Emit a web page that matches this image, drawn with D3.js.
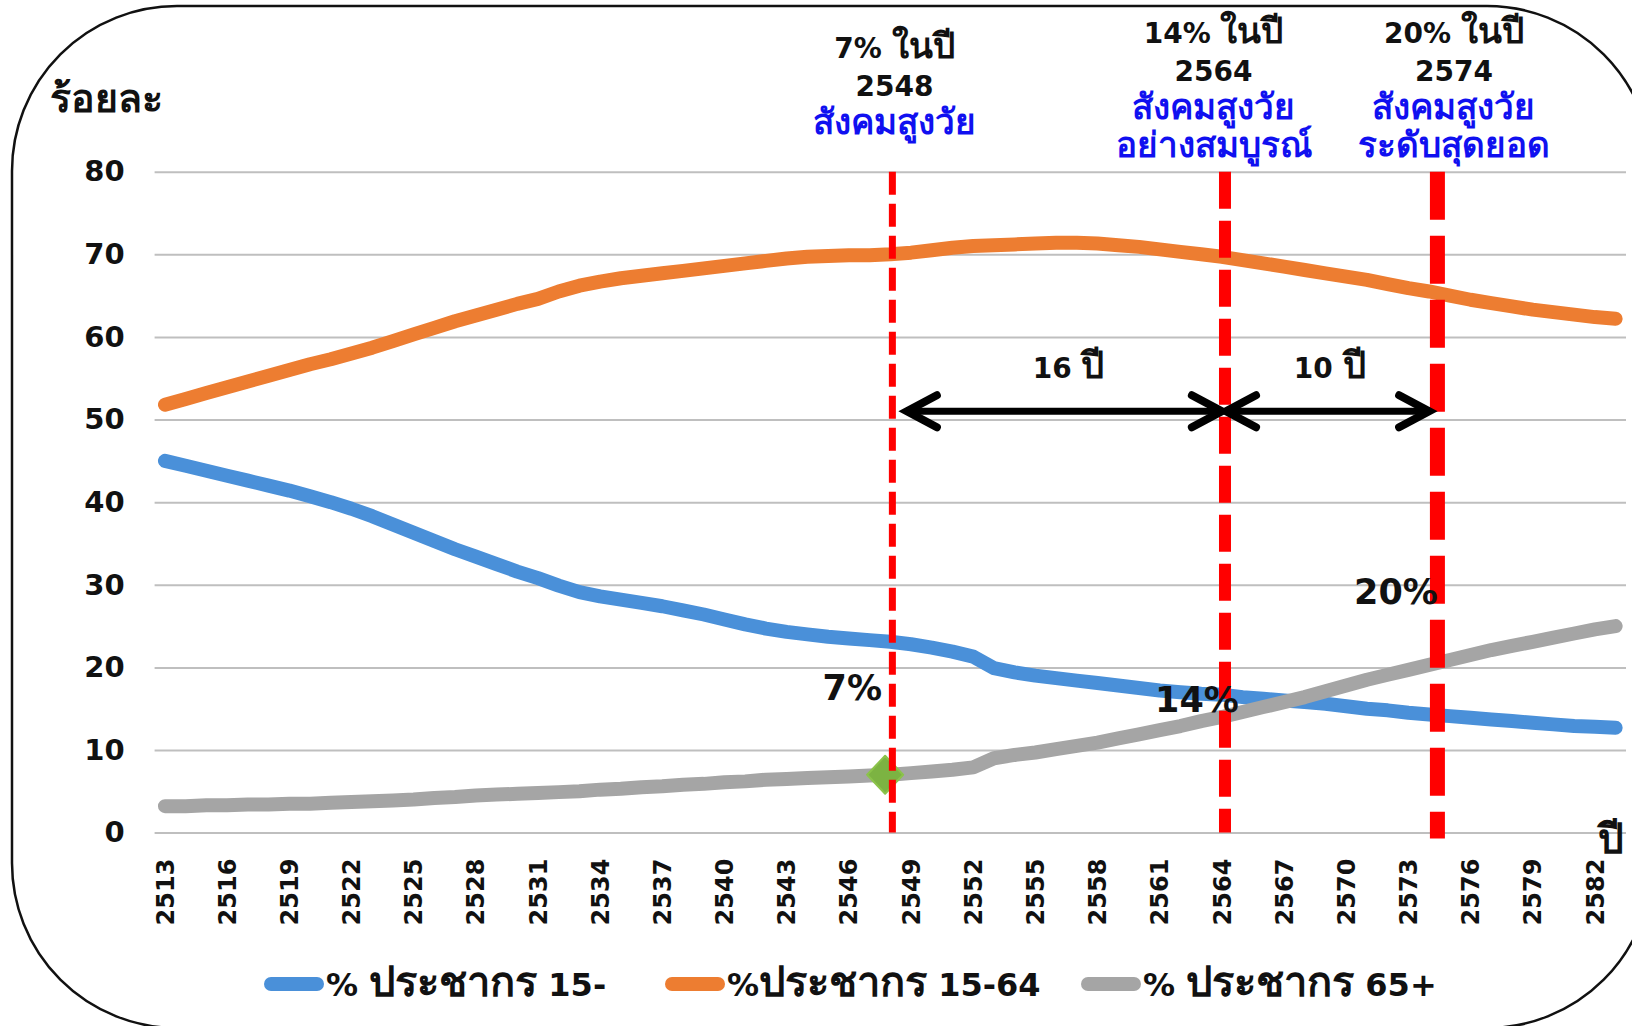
<!DOCTYPE html>
<html lang="th">
<head>
  <meta charset="UTF-8">
  <title>สัดส่วนประชากร</title>
  <script src="https://d3js.org/d3.v7.min.js"></script>
  <style>
    body { margin: 0; background: #fff; }
    svg { display: block; }
    text { font-family: 'DejaVu Sans', 'Noto Sans', sans-serif; font-weight: bold; }
  </style>
</head>
<body>
  <div class="chart"></div>
  <script>
    const years = d3.range(2513, 2584);

    // % ประชากรอายุต่ำกว่า 15 ปี
    const under15 = [
      45.0, 44.4, 43.8, 43.2, 42.6, 42.0, 41.4, 40.7, 40.0, 39.2,
      38.3, 37.3, 36.3, 35.3, 34.3, 33.4, 32.5, 31.6, 30.8, 29.9,
      29.1, 28.6, 28.2, 27.8, 27.4, 26.9, 26.4, 25.8, 25.2, 24.7,
      24.3, 24.0, 23.7, 23.5, 23.3, 23.1, 22.8, 22.4, 21.9, 21.3,
      19.9, 19.4, 19.0, 18.7, 18.4, 18.1, 17.8, 17.5, 17.2, 17.0,
      16.8, 16.7, 16.4, 16.2, 16.0, 15.8, 15.6, 15.3, 15.0, 14.8,
      14.5, 14.3, 14.1, 13.9, 13.7, 13.5, 13.3, 13.1, 12.9, 12.8,
      12.7
    ];
    // % ประชากร 15-64
    const age15to64 = [
      51.8, 52.5, 53.2, 53.9, 54.6, 55.3, 56.0, 56.7, 57.3, 58.0,
      58.7, 59.5, 60.3, 61.1, 61.9, 62.6, 63.3, 64.0, 64.6, 65.5,
      66.2, 66.7, 67.1, 67.4, 67.7, 68.0, 68.3, 68.6, 68.9, 69.2,
      69.5, 69.7, 69.8, 69.9, 69.9, 70.0, 70.2, 70.5, 70.8, 71.0,
      71.1, 71.2, 71.3, 71.4, 71.4, 71.3, 71.1, 70.9, 70.6, 70.3,
      70.0, 69.7, 69.3, 68.9, 68.5, 68.1, 67.7, 67.3, 66.9, 66.4,
      65.9, 65.5, 65.0, 64.5, 64.1, 63.7, 63.3, 63.0, 62.7, 62.4,
      62.2
    ];
    // % ประชากร 65+
    const age65plus = [
      3.2, 3.2, 3.3, 3.3, 3.4, 3.4, 3.5, 3.5, 3.6, 3.7,
      3.8, 3.9, 4.0, 4.2, 4.3, 4.5, 4.6, 4.7, 4.8, 4.9,
      5.0, 5.2, 5.3, 5.5, 5.6, 5.8, 5.9, 6.1, 6.2, 6.4,
      6.5, 6.6, 6.7, 6.8, 6.9, 7.0, 7.2, 7.4, 7.6, 7.9,
      9.0, 9.4, 9.7, 10.1, 10.5, 10.9, 11.4, 11.9, 12.4, 12.9,
      13.5, 14.0, 14.6, 15.2, 15.8, 16.4, 17.1, 17.8, 18.5, 19.1,
      19.7, 20.3, 20.9, 21.5, 22.1, 22.6, 23.1, 23.6, 24.1, 24.6,
      25.0
    ];

    const seriesNames = ['% ประชากร 15-', '%ประชากร 15-64', '% ประชากร 65+'];
    const seriesColors = ['#4a90d9', '#ed7d31', '#a5a5a5'];
    const yTicks = [0, 10, 20, 30, 40, 50, 60, 70, 80];

    const milestoneYears = [2548.1, 2564.15, 2574.4];
    const milestoneTitles = [
      ['7% ในปี', '2548', 'สังคมสูงวัย'],
      ['14% ในปี', '2564', 'สังคมสูงวัย', 'อย่างสมบูรณ์'],
      ['20% ในปี', '2574', 'สังคมสูงวัย', 'ระดับสุดยอด']
    ];
    const milestoneLabels = ['7%', '14%', '20%'];
    const spans = [[2548.8, 2564.0, '16 ปี'], [2564.2, 2574.0, '10 ปี']];

    const W = 1632, H = 1026;
    const margin = { top: 171.7, left: 154.6 };
    const width = 1471.4, height = 660.9;

    // the Thai fallback face runs small next to DejaVu, so Thai runs get their own size
    function thaiText(sel, str, size, thaiScale) {
      str.split(/([\u0E00-\u0E7F]+)/).filter(s => s.length).forEach(part => {
        const th = /[\u0E00-\u0E7F]/.test(part);
        sel.append('tspan').attr('font-size', th ? size * thaiScale : size).text(part);
      });
      return sel;
    }

    const svg = d3.select('.chart').append('svg').attr('width', W).attr('height', H);

    svg.append('rect').attr('x', 12).attr('y', 6).attr('width', 1640).attr('height', 1022)
      .attr('rx', 165).attr('fill', 'none').attr('stroke', '#111').attr('stroke-width', 2.5);

    const g = svg.append('g').attr('transform', `translate(${margin.left},${margin.top})`);

    const x = d3.scaleBand().domain(years).range([0, width]).padding(0);
    const xc = d => x(d) + x.bandwidth() / 2;
    const xl = d3.scaleLinear().domain([2513, 2583]).range([xc(2513), xc(2583)]);
    const y = d3.scaleLinear().domain([0, 80]).range([height, 0]);

    // gridlines + y labels
    const yAxis = g.append('g').call(d3.axisLeft(y).tickValues(yTicks).tickSize(-width).tickPadding(30));
    yAxis.select('.domain').remove();
    yAxis.selectAll('line').attr('stroke', '#bfbfbf').attr('stroke-width', 2);
    yAxis.selectAll('text').attr('font-size', 29).attr('fill', '#111');

    // x labels
    const xAxis = g.append('g').attr('transform', `translate(0,${height})`)
      .call(d3.axisBottom(x).tickValues(years.filter((d, i) => i % 3 === 0)).tickSize(0));
    xAxis.select('.domain').remove();
    xAxis.selectAll('text').attr('font-size', 24).attr('fill', '#111')
      .attr('text-anchor', 'end').attr('transform', 'rotate(-90)')
      .attr('x', -26).attr('y', 0).attr('dy', '0.36em');

    // series
    const line = d3.line().x((d, i) => xc(years[i])).y(d => y(d));
    [under15, age15to64, age65plus].forEach((vals, k) => {
      g.append('path').datum(vals).attr('d', line).attr('fill', 'none')
        .attr('stroke', seriesColors[k]).attr('stroke-width', 14)
        .attr('stroke-linecap', 'round').attr('stroke-linejoin', 'round');
    });

    // green marker at 7%
    const mx = xl(2547.75), my = y(7);
    g.append('path').attr('d', `M${mx},${my - 19}L${mx + 18},${my}L${mx},${my + 19}L${mx - 18},${my}Z`)
      .attr('fill', '#7cb342').attr('stroke', '#8bc34a').attr('stroke-width', 2).attr('stroke-linejoin', 'round');

    // red dashed milestone lines
    const dashStyles = [[7, '23,9'], [12, '37,12'], [15, '48,16']];
    milestoneYears.forEach((yr, i) => {
      g.append('line').attr('x1', xl(yr)).attr('x2', xl(yr))
        .attr('y1', y(80)).attr('y2', y(0) + (i === 2 ? 6 : 0))
        .attr('stroke', '#ff0000').attr('stroke-width', dashStyles[i][0])
        .attr('stroke-dasharray', dashStyles[i][1]);
    });

    // double arrows
    spans.forEach(([a, b, label]) => {
      const x1 = xl(a), x2 = xl(b), ya = y(51);
      g.append('line').attr('x1', x1 + 3).attr('x2', x2 - 3).attr('y1', ya).attr('y2', ya)
        .attr('stroke', '#000').attr('stroke-width', 7);
      [[x1, 1], [x2, -1]].forEach(([px, s]) => {
        g.append('path').attr('d', `M${px + s * 30},${ya - 16}L${px},${ya}L${px + s * 30},${ya + 16}`)
          .attr('fill', 'none').attr('stroke', '#000').attr('stroke-width', 8)
          .attr('stroke-linecap', 'round').attr('stroke-linejoin', 'miter');
      });
      const t = g.append('text').attr('x', xl((a + b) / 2 + (label === '16 ปี' ? 0.2 : 0.1)))
        .attr('y', y(55)).attr('text-anchor', 'middle').attr('fill', '#111');
      thaiText(t, label, 28, 1.3);
    });

    // percentage labels
    const pctPos = [[2547.6, 16.05, 'end'], [2562.8, 14.6, 'middle'], [2572.4, 27.7, 'middle']];
    pctPos.forEach(([yr, v, anchor], i) => {
      g.append('text').attr('x', xl(yr)).attr('y', y(v)).attr('text-anchor', anchor)
        .attr('font-size', 35).attr('fill', '#111').text(milestoneLabels[i]);
    });

    // titles above the plot
    const titleX = [2548.2, 2563.6, 2575.2];
    const titleTop = [58, 43, 43];
    milestoneTitles.forEach((lines, i) => {
      lines.forEach((t, j) => {
        const el = svg.append('text').attr('x', margin.left + xl(titleX[i])).attr('y', titleTop[i] + j * 38)
          .attr('text-anchor', 'middle').attr('fill', j < 2 ? '#111' : '#1010f0');
        thaiText(el, t, 28, 1.25);
      });
    });

    // axis captions
    thaiText(svg.append('text').attr('x', 50).attr('y', 112).attr('fill', '#111'), 'ร้อยละ', 28, 1.4);
    thaiText(svg.append('text').attr('x', 1598).attr('y', 853).attr('fill', '#111'), 'ปี', 30, 1.35);

    // legend
    const legendX = [265, 666, 1082];
    seriesNames.forEach((name, i) => {
      svg.append('line').attr('x1', legendX[i] + 6).attr('x2', legendX[i] + 52).attr('y1', 984).attr('y2', 984)
        .attr('stroke', seriesColors[i]).attr('stroke-width', 14).attr('stroke-linecap', 'round');
      const t = svg.append('text').attr('x', legendX[i] + 61).attr('y', 996).attr('fill', '#111');
      thaiText(t, name, 32, 1.3);
    });
  </script>
</body>
</html>
